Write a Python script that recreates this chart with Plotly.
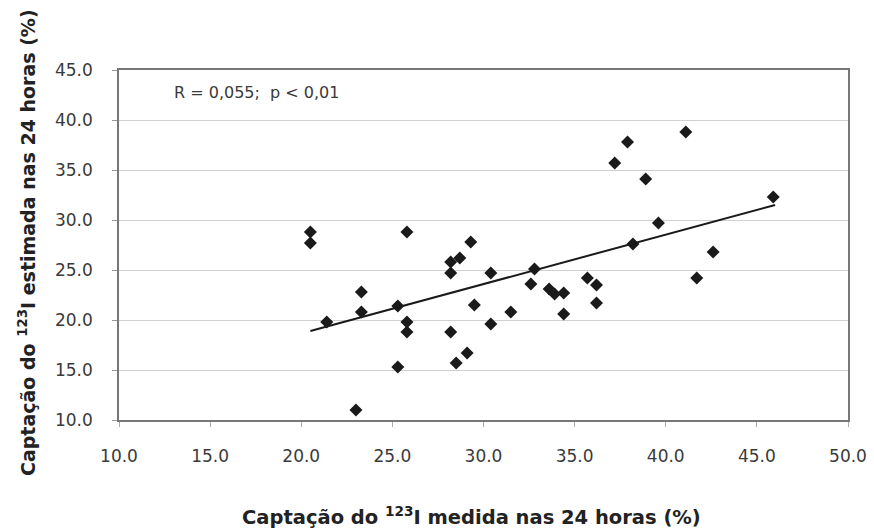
import plotly.graph_objects as go

# Measured uptake (x) and estimated uptake (y), in %
x_medida = [20.5, 20.5, 21.4, 23.3, 23.3, 23.0, 25.3, 25.3, 25.8, 25.8, 25.8,
            28.2, 28.7, 28.2, 29.3, 29.5, 28.2, 28.5, 29.1, 30.4, 30.4, 31.5,
            32.6, 32.8, 33.6, 33.9, 34.4, 34.4, 35.7, 36.2, 36.2, 37.2, 37.9,
            38.9, 39.6, 38.2, 41.1, 41.7, 42.6, 45.9]
y_estimada = [28.8, 27.7, 19.8, 22.8, 20.8, 11.0, 21.4, 15.3, 28.8, 19.8, 18.8,
              25.8, 26.2, 24.7, 27.8, 21.5, 18.8, 15.7, 16.7, 24.7, 19.6, 20.8,
              23.6, 25.1, 23.1, 22.6, 22.7, 20.6, 24.2, 23.5, 21.7, 35.7, 37.8,
              34.1, 29.7, 27.6, 38.8, 24.2, 26.8, 32.3]

# Regression line end points
trend_x = [20.5, 46.0]
trend_y = [18.9, 31.5]

x_ticks = [10, 15, 20, 25, 30, 35, 40, 45, 50]
y_ticks = [10, 15, 20, 25, 30, 35, 40, 45]

x_title = "<b>Captação do <sup>123</sup>I medida nas 24 horas (%)</b>"
y_title = "<b>Captação do <sup>123</sup>I estimada nas 24 horas (%)</b>"
stat_text = "R = 0,055;  p < 0,01"

fig = go.Figure()
fig.add_trace(go.Scatter(
    x=x_medida, y=y_estimada, mode="markers",
    marker=dict(symbol="diamond", size=10, color="#1a1a1a"),
    showlegend=False, hoverinfo="x+y"))
fig.add_trace(go.Scatter(
    x=trend_x, y=trend_y, mode="lines",
    line=dict(color="#1a1a1a", width=2),
    showlegend=False, hoverinfo="skip"))

fig.add_annotation(
    x=0.073, y=0.937, xref="paper", yref="paper", xanchor="left", yanchor="middle",
    text=stat_text, showarrow=False,
    font=dict(family="DejaVu Sans, sans-serif", size=16, color="#3a3a3a"))

fig.add_annotation(
    x=0.484, y=-0.274, xref="paper", yref="paper", xanchor="center", yanchor="middle",
    text=x_title, showarrow=False,
    font=dict(family="DejaVu Sans, sans-serif", size=19.5, color="#222"))

fig.add_annotation(
    x=-0.126, y=0.506, xref="paper", yref="paper", xanchor="center", yanchor="middle",
    text=y_title, showarrow=False, textangle=-90,
    font=dict(family="DejaVu Sans, sans-serif", size=19, color="#222"))

axis_font = dict(family="DejaVu Sans, sans-serif", size=17, color="#3a3a3a")

fig.update_layout(
    width=866, height=521,
    margin=dict(l=111, r=26, t=62, b=109),
    paper_bgcolor="white", plot_bgcolor="white",
    xaxis=dict(
        range=[10, 50], tickvals=x_ticks, ticktext=[f"{v:.1f}" for v in x_ticks],
        showgrid=False, zeroline=False, automargin=False,
        showline=True, linecolor="#777", linewidth=1.5, mirror=True,
        ticks="outside", ticklen=5, tickcolor="#aaa", tickwidth=1,
        tickfont=axis_font, ticklabelstandoff=15,
    ),
    yaxis=dict(
        range=[10, 45], tickvals=y_ticks, ticktext=[f"{v:.1f}" for v in y_ticks],
        showgrid=True, gridcolor="#d0d0d0", gridwidth=1, zeroline=False,
        automargin=False,
        showline=True, linecolor="#777", linewidth=1.5, mirror=True,
        ticks="outside", ticklen=5, tickcolor="#999", tickwidth=1,
        tickfont=axis_font, ticklabelstandoff=16,
    ),
)

fig.write_html("out.html")
